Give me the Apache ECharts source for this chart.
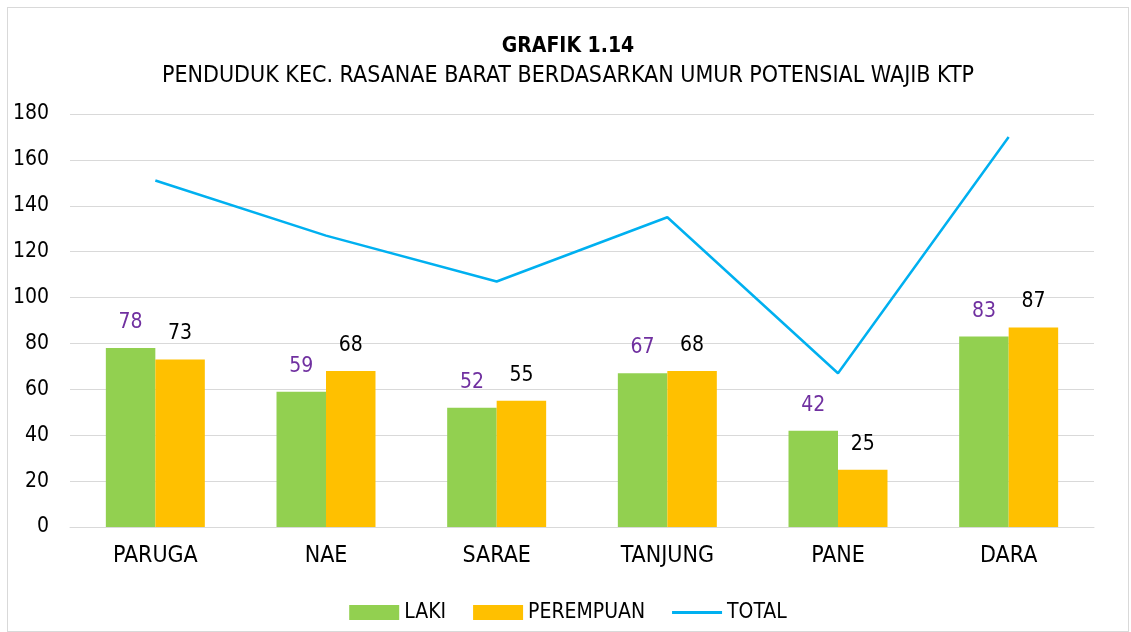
<!DOCTYPE html>
<html>
<head>
<meta charset="utf-8">
<script src="https://cdn.jsdelivr.net/npm/echarts@6/dist/echarts.min.js"></script>
<style>
    html, body { margin: 0; padding: 0; background: #fff; overflow: hidden; }
    #main {
        position: absolute; left: 7px; top: 7px;
        width: 1122px; height: 625px;
        border: 1px solid #d9d9d9; box-sizing: border-box;
    }
</style>
</head>
<body>
<div id="main"></div>
<script>
    var kelurahan = ['PARUGA', 'NAE', 'SARAE', 'TANJUNG', 'PANE', 'DARA'];
    var laki = [78, 59, 52, 67, 42, 83];
    var perempuan = [73, 68, 55, 68, 25, 87];
    var total = [151, 127, 107, 135, 67, 170];

    var fontNarrow = '"DejaVu Sans Condensed", "Liberation Sans Narrow", "Liberation Sans", Arial, sans-serif';

    var myChart = echarts.init(document.getElementById('main'));

    var option = {
        animation: false,
        textStyle: { fontFamily: fontNarrow },
        title: {
            text: 'GRAFIK 1.14',
            subtext: 'PENDUDUK KEC. RASANAE BARAT BERDASARKAN UMUR POTENSIAL WAJIB KTP',
            left: 'center',
            top: 23,
            itemGap: 8,
            textStyle: { fontFamily: fontNarrow, fontSize: 21, fontWeight: 'bold', color: '#000' },
            subtextStyle: { fontFamily: fontNarrow, fontSize: 23, color: '#000' }
        },
        legend: {
            bottom: 3,
            left: 'center',
            itemWidth: 50,
            itemHeight: 15,
            itemGap: 27,
            textStyle: { fontFamily: fontNarrow, fontSize: 21, color: '#000' },
            data: [
                { name: 'LAKI', icon: 'rect' },
                { name: 'PEREMPUAN', icon: 'rect' },
                { name: 'TOTAL', icon: 'path://M0,0 L50,0 L50,3 L0,3 Z' }
            ]
        },
        grid: { left: 62, right: 34, top: 106, bottom: 104 },
        xAxis: {
            type: 'category',
            data: kelurahan,
            axisLine: { lineStyle: { color: '#d9d9d9', width: 1 } },
            axisTick: { show: false },
            axisLabel: { fontFamily: fontNarrow, fontSize: 23, color: '#000', margin: 18 }
        },
        yAxis: {
            type: 'value',
            min: 0,
            max: 180,
            interval: 20,
            axisLine: { show: false },
            axisTick: { show: false },
            splitLine: { lineStyle: { color: '#d9d9d9', width: 1 } },
            axisLabel: { fontFamily: fontNarrow, fontSize: 21, color: '#000', margin: 21 }
        },
        series: [
            {
                name: 'LAKI',
                type: 'bar',
                data: laki,
                barGap: '0%',
                barCategoryGap: '42%',
                itemStyle: { color: '#92d050' },
                label: { show: true, position: 'top', distance: 15, fontSize: 21, color: '#7030a0', fontFamily: fontNarrow }
            },
            {
                name: 'PEREMPUAN',
                type: 'bar',
                data: perempuan,
                itemStyle: { color: '#ffc000' },
                label: { show: true, position: 'top', distance: 15, fontSize: 21, color: '#000', fontFamily: fontNarrow }
            },
            {
                name: 'TOTAL',
                type: 'line',
                data: total,
                symbol: 'none',
                lineStyle: { color: '#00b0f0', width: 2.5 },
                itemStyle: { color: '#00b0f0' }
            }
        ]
    };

    myChart.setOption(option);
</script>
</body>
</html>
